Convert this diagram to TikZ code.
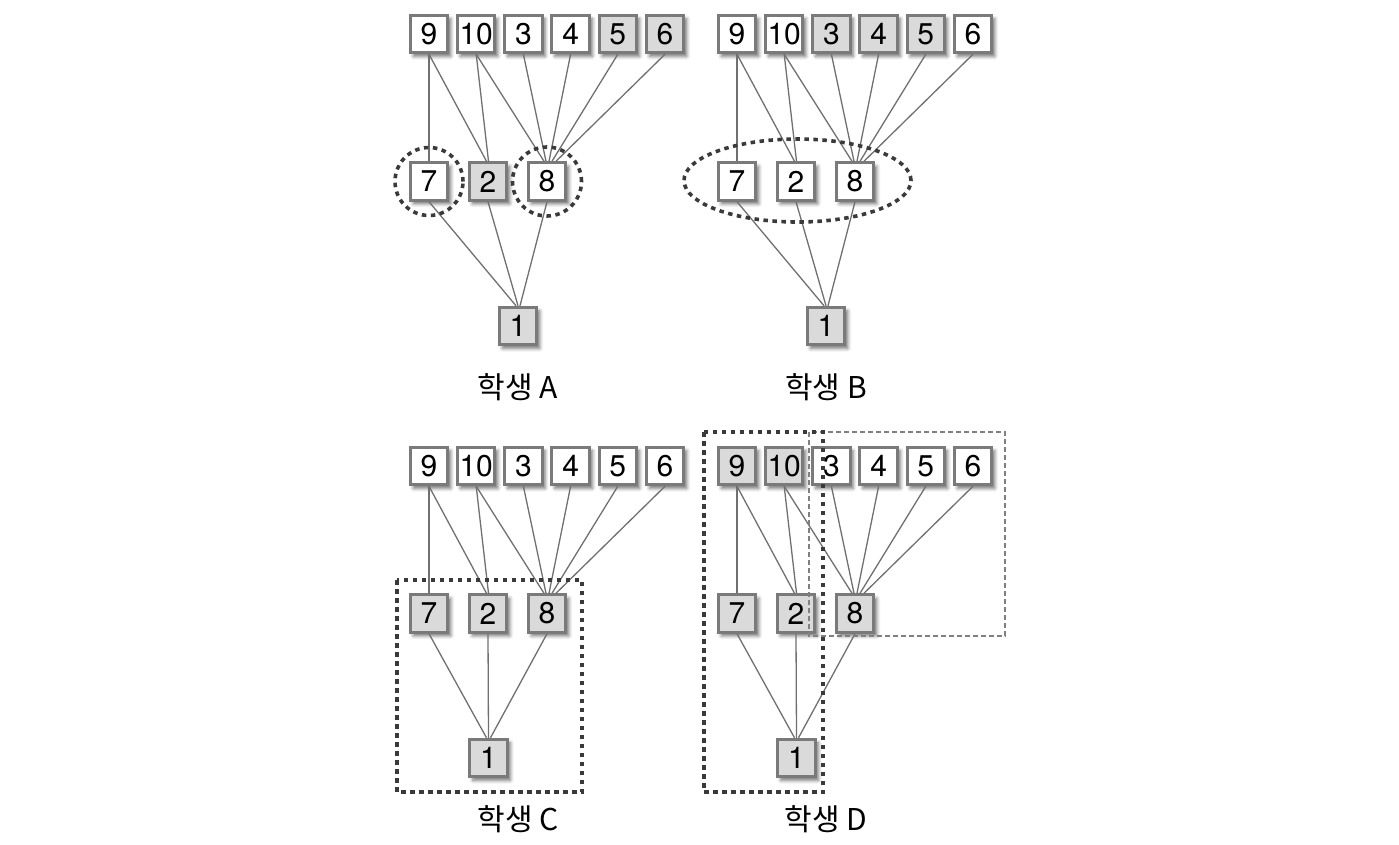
\documentclass[tikz,border=0pt]{standalone}
\usepackage{fontspec}
\setmainfont{TeX Gyre Heros}
\newfontfamily\krfont{Noto Sans CJK KR}
\usetikzlibrary{shadows.blur,calc}
\definecolor{bxw}{HTML}{FFFFFF}
\definecolor{bxg}{HTML}{DADADA}
\definecolor{bxline}{HTML}{7A7A7A}
\definecolor{edgec}{HTML}{707070}
\definecolor{dotc}{HTML}{3A3A3A}
\tikzset{
 box/.style={draw=bxline, line width=3pt, minimum size=37.5pt, inner sep=0pt,
   font=\fontsize{30}{30}\selectfont,
   blur shadow={shadow xshift=3pt, shadow yshift=-3.5pt, shadow blur radius=3.5pt, shadow opacity=55}},
 edge/.style={draw=edgec, line width=1.3pt},
 dots/.style={draw=dotc, line width=3.6pt, dash pattern=on 4.5pt off 4.5pt},
 thindash/.style={draw=black!50, line width=1.1pt, dash pattern=on 5pt off 3pt},
 lbl/.style={font=\krfont\fontsize{30}{30}\selectfont}
}
% #1 prefix, #2 x shift, #3 y shift, #4 top row list, #5 middle row list, #6 label, #7 x of node 1
\newcommand\mypanel[7]{%
 \begin{scope}[shift={(#2,#3)}]
  \foreach \n/\x/\f in {#4} \node[box,fill=\f] (#1\n) at (429+\x*47.2,34) {\n};
  \foreach \n/\x/\f in {#5} \node[box,fill=\f] (#1\n) at (\x,181.5) {\n};
  \node[box,fill=bxg] (#1one) at (#7,326) {1};
  \draw[edge] (#19.south) -- (#17.north);
  \draw[edge] (#19.south) -- ($(#12.north)+(-1.5,0)$);
  \draw[edge] (#110.south) -- ($(#12.north)+(0.5,0)$);
  \draw[edge] (#110.south) -- ($(#18.north)+(-3,0)$);
  \draw[edge] (#13.south) -- ($(#18.north)+(-1,0)$);
  \draw[edge] (#14.south) -- ($(#18.north)+(2,0)$);
  \draw[edge] (#15.south) -- ($(#18.north)+(5,0)$);
  \draw[edge] (#16.south) -- ($(#18.north)+(9,0)$);
  \draw[edge] (#17.south) -- ($(#1one.north)+(-2,0)$);
  \draw[edge] (#12.south) -- (#1one.north);
  \draw[edge] (#18.south) -- ($(#1one.north)+(2,0)$);
  \node[lbl] (#1lbl) at (518,387) {#6};
 \end{scope}}
\begin{document}
\begin{tikzpicture}[x=1pt,y=-1pt]
\useasboundingbox (0,0) rectangle (1399,844);
\mypanel{a}{0}{0}{9/0/bxw,10/1/bxw,3/2/bxw,4/3/bxw,5/4/bxg,6/5/bxg}{7/429/bxw,2/488/bxg,8/547/bxw}{학생 A}{518}
\mypanel{b}{308}{0}{9/0/bxw,10/1/bxw,3/2/bxg,4/3/bxg,5/4/bxg,6/5/bxw}{7/429/bxw,2/488/bxw,8/547/bxw}{학생 B}{518}
\mypanel{c}{0}{432}{9/0/bxw,10/1/bxw,3/2/bxw,4/3/bxw,5/4/bxw,6/5/bxw}{7/429/bxg,2/488/bxg,8/547/bxg}{학생 C}{488.5}
\mypanel{d}{308}{432}{9/0/bxg,10/1/bxg,3/2/bxw,4/3/bxw,5/4/bxw,6/5/bxw}{7/429/bxg,2/488/bxg,8/547/bxg}{학생 D}{488.5}
% groupings
\draw[dots] (a7.center) circle[radius=34pt];
\draw[dots] (a8.center) circle[radius=34.5pt];
\draw[dots] (797.5,180.5) ellipse[x radius=113.5pt, y radius=41.5pt];
\draw[dots] (397,580) rectangle (582,792);
\draw[thindash] (809,432) rectangle (1005,636);
\draw[dots] (704,432) rectangle (823,792);
\end{tikzpicture}
\end{document}
